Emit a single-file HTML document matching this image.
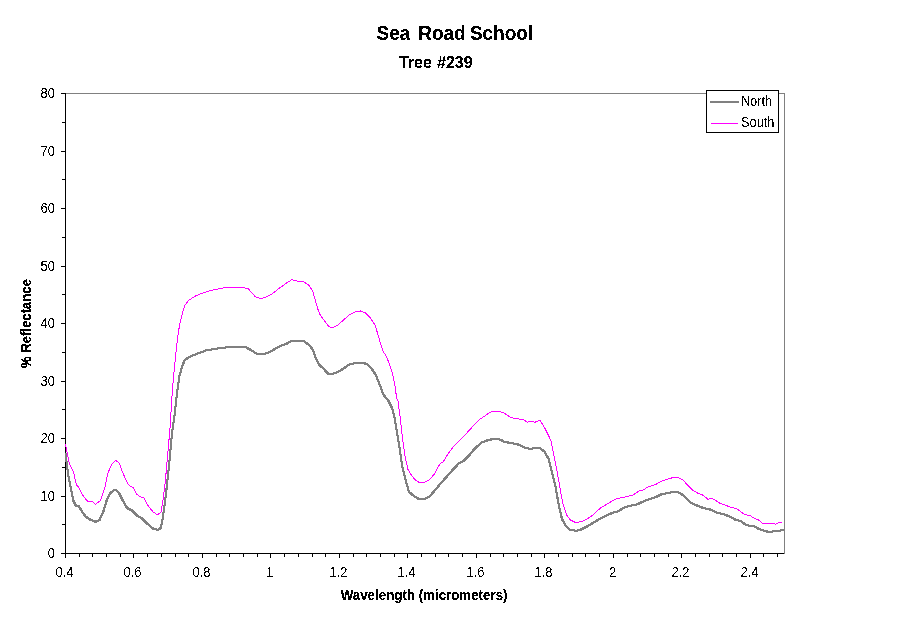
<!DOCTYPE html>
<html><head><meta charset="utf-8"><title>Sea Road School</title>
<style>
html,body{margin:0;padding:0;background:#fff;}
body{width:911px;height:623px;overflow:hidden;}
svg{display:block;font-family:"Liberation Sans",Arial,sans-serif;fill:#000;}
.b{font-weight:bold;}
</style></head><body>
<svg width="911" height="623" viewBox="0 0 911 623">
<defs>
<filter id="bwr" x="0" y="0" width="911" height="623" filterUnits="userSpaceOnUse" color-interpolation-filters="sRGB"><feComponentTransfer><feFuncA type="discrete" tableValues="0 1"/></feComponentTransfer></filter>
<filter id="bwb" x="0" y="0" width="911" height="623" filterUnits="userSpaceOnUse" color-interpolation-filters="sRGB"><feComponentTransfer><feFuncA type="discrete" tableValues="0 0 1 1 1"/></feComponentTransfer></filter>
</defs>
<rect width="911" height="623" fill="#fff"/>
<g shape-rendering="crispEdges">
<rect x="65" y="93" width="720" height="1" fill="#808080"/>
<rect x="784" y="93" width="1" height="461" fill="#808080"/>
<rect x="65" y="93" width="1" height="461" fill="#000"/>
<rect x="65" y="553" width="719" height="1" fill="#000"/>
<g fill="#000">
<rect x="61" y="553" width="4" height="1"/><rect x="61" y="496" width="4" height="1"/><rect x="61" y="438" width="4" height="1"/><rect x="61" y="381" width="4" height="1"/><rect x="61" y="323" width="4" height="1"/><rect x="61" y="266" width="4" height="1"/><rect x="61" y="208" width="4" height="1"/><rect x="61" y="151" width="4" height="1"/><rect x="61" y="93" width="4" height="1"/><rect x="62" y="524" width="3" height="1"/><rect x="62" y="467" width="3" height="1"/><rect x="62" y="409" width="3" height="1"/><rect x="62" y="352" width="3" height="1"/><rect x="62" y="294" width="3" height="1"/><rect x="62" y="237" width="3" height="1"/><rect x="62" y="179" width="3" height="1"/><rect x="62" y="122" width="3" height="1"/><rect x="65" y="554" width="1" height="4"/><rect x="79" y="554" width="1" height="3"/><rect x="92" y="554" width="1" height="3"/><rect x="106" y="554" width="1" height="3"/><rect x="120" y="554" width="1" height="3"/><rect x="133" y="554" width="1" height="4"/><rect x="147" y="554" width="1" height="3"/><rect x="161" y="554" width="1" height="3"/><rect x="175" y="554" width="1" height="3"/><rect x="188" y="554" width="1" height="3"/><rect x="202" y="554" width="1" height="4"/><rect x="216" y="554" width="1" height="3"/><rect x="229" y="554" width="1" height="3"/><rect x="243" y="554" width="1" height="3"/><rect x="257" y="554" width="1" height="3"/><rect x="270" y="554" width="1" height="4"/><rect x="284" y="554" width="1" height="3"/><rect x="298" y="554" width="1" height="3"/><rect x="312" y="554" width="1" height="3"/><rect x="325" y="554" width="1" height="3"/><rect x="339" y="554" width="1" height="4"/><rect x="353" y="554" width="1" height="3"/><rect x="366" y="554" width="1" height="3"/><rect x="380" y="554" width="1" height="3"/><rect x="394" y="554" width="1" height="3"/><rect x="407" y="554" width="1" height="4"/><rect x="421" y="554" width="1" height="3"/><rect x="435" y="554" width="1" height="3"/><rect x="448" y="554" width="1" height="3"/><rect x="462" y="554" width="1" height="3"/><rect x="476" y="554" width="1" height="4"/><rect x="490" y="554" width="1" height="3"/><rect x="503" y="554" width="1" height="3"/><rect x="517" y="554" width="1" height="3"/><rect x="531" y="554" width="1" height="3"/><rect x="544" y="554" width="1" height="4"/><rect x="558" y="554" width="1" height="3"/><rect x="572" y="554" width="1" height="3"/><rect x="585" y="554" width="1" height="3"/><rect x="599" y="554" width="1" height="3"/><rect x="613" y="554" width="1" height="4"/><rect x="627" y="554" width="1" height="3"/><rect x="640" y="554" width="1" height="3"/><rect x="654" y="554" width="1" height="3"/><rect x="668" y="554" width="1" height="3"/><rect x="681" y="554" width="1" height="4"/><rect x="695" y="554" width="1" height="3"/><rect x="709" y="554" width="1" height="3"/><rect x="722" y="554" width="1" height="3"/><rect x="736" y="554" width="1" height="3"/><rect x="750" y="554" width="1" height="4"/><rect x="763" y="554" width="1" height="3"/><rect x="777" y="554" width="1" height="3"/>
</g>
</g>
<g fill="none" stroke-linejoin="round" stroke-linecap="butt" shape-rendering="crispEdges">
<g stroke="#808080" stroke-width="1">
<polyline points="65.00,452.50 67.80,475.00 70.30,487.50 72.80,500.00 75.30,505.00 78.30,505.50 81.55,511.25 85.30,516.25 90.30,519.50 95.30,521.25 99.05,519.50 102.80,511.25 106.55,498.75 110.30,492.00 114.80,489.00 118.30,492.00 122.30,500.00 126.55,507.50 131.55,510.00 136.55,515.00 141.55,518.00 146.55,523.00 152.80,528.25 157.30,529.25 160.30,527.50 162.30,517.50 165.30,495.00 168.30,467.50 171.55,432.50 174.05,415.00 176.55,392.50 179.05,375.00 181.55,366.25 184.05,360.00 187.80,357.00 195.30,353.75 205.30,350.00 215.30,348.25 225.30,347.00 235.30,346.50 245.30,346.75 250.30,349.50 256.55,353.50 262.80,353.75 269.05,351.50 275.30,348.00 282.80,344.25 285.30,343.75 289.80,341.00 296.55,340.75 304.05,341.00 309.05,345.00 312.80,350.00 315.30,357.50 318.30,363.75 322.80,368.00 327.80,373.25 332.80,373.25 340.30,370.00 347.80,364.50 355.30,362.25 361.55,362.00 366.55,363.75 371.55,368.75 375.30,374.50 379.05,383.75 382.80,393.75 386.55,398.75 387.80,400.00 391.55,407.50 394.05,417.50 396.55,432.50 399.05,447.50 401.55,465.00 405.30,480.00 408.30,491.25 412.80,495.00 417.80,498.25 424.05,498.25 429.05,496.25 435.30,488.75 439.50,483.70 446.20,476.20 452.80,468.70 458.70,462.50 462.80,460.80 468.70,454.80 474.50,447.80 481.20,442.00 487.80,439.50 494.50,438.30 500.30,439.20 503.70,441.50 511.20,442.50 519.50,444.50 524.50,447.50 530.30,448.30 538.70,447.00 542.80,450.30 544.05,451.25 548.30,458.75 551.55,472.50 555.30,487.50 558.30,505.00 561.55,518.75 565.30,525.50 569.05,529.25 575.30,530.25 579.50,529.50 586.20,526.20 592.80,522.30 599.50,518.20 606.20,515.00 612.80,512.00 617.80,510.70 622.80,507.50 629.50,505.30 636.20,504.00 639.50,502.50 646.20,499.50 656.20,496.20 662.00,493.30 667.80,492.80 672.80,491.20 677.00,491.20 681.20,493.70 685.30,497.00 689.50,501.70 694.50,504.20 702.80,507.50 709.50,509.00 716.20,512.00 724.50,514.20 730.30,516.50 734.50,519.00 740.30,520.70 746.20,524.80 753.70,525.80 758.70,528.70 764.50,530.30 769.50,532.00 773.70,530.30 777.80,530.80 782.80,529.20"/>
<polyline points="66.00,452.50 68.80,475.00 71.30,487.50 73.80,500.00 76.30,505.00 79.30,505.50 82.55,511.25 86.30,516.25 91.30,519.50 96.30,521.25 100.05,519.50 103.80,511.25 107.55,498.75 111.30,492.00 115.80,489.00 119.30,492.00 123.30,500.00 127.55,507.50 132.55,510.00 137.55,515.00 142.55,518.00 147.55,523.00 153.80,528.25 158.30,529.25 161.30,527.50 163.30,517.50 166.30,495.00 169.30,467.50 172.55,432.50 175.05,415.00 177.55,392.50 180.05,375.00 182.55,366.25 185.05,360.00 188.80,357.00 196.30,353.75 206.30,350.00 216.30,348.25 226.30,347.00 236.30,346.50 246.30,346.75 251.30,349.50 257.55,353.50 263.80,353.75 270.05,351.50 276.30,348.00 283.80,344.25 286.30,343.75 290.80,341.00 297.55,340.75 305.05,341.00 310.05,345.00 313.80,350.00 316.30,357.50 319.30,363.75 323.80,368.00 328.80,373.25 333.80,373.25 341.30,370.00 348.80,364.50 356.30,362.25 362.55,362.00 367.55,363.75 372.55,368.75 376.30,374.50 380.05,383.75 383.80,393.75 387.55,398.75 388.80,400.00 392.55,407.50 395.05,417.50 397.55,432.50 400.05,447.50 402.55,465.00 406.30,480.00 409.30,491.25 413.80,495.00 418.80,498.25 425.05,498.25 430.05,496.25 436.30,488.75 440.50,483.70 447.20,476.20 453.80,468.70 459.70,462.50 463.80,460.80 469.70,454.80 475.50,447.80 482.20,442.00 488.80,439.50 495.50,438.30 501.30,439.20 504.70,441.50 512.20,442.50 520.50,444.50 525.50,447.50 531.30,448.30 539.70,447.00 543.80,450.30 545.05,451.25 549.30,458.75 552.55,472.50 556.30,487.50 559.30,505.00 562.55,518.75 566.30,525.50 570.05,529.25 576.30,530.25 580.50,529.50 587.20,526.20 593.80,522.30 600.50,518.20 607.20,515.00 613.80,512.00 618.80,510.70 623.80,507.50 630.50,505.30 637.20,504.00 640.50,502.50 647.20,499.50 657.20,496.20 663.00,493.30 668.80,492.80 673.80,491.20 678.00,491.20 682.20,493.70 686.30,497.00 690.50,501.70 695.50,504.20 703.80,507.50 710.50,509.00 717.20,512.00 725.50,514.20 731.30,516.50 735.50,519.00 741.30,520.70 747.20,524.80 754.70,525.80 759.70,528.70 765.50,530.30 770.50,532.00 774.70,530.30 778.80,530.80 783.80,529.20"/>
<polyline points="65.00,453.50 67.80,476.00 70.30,488.50 72.80,501.00 75.30,506.00 78.30,506.50 81.55,512.25 85.30,517.25 90.30,520.50 95.30,522.25 99.05,520.50 102.80,512.25 106.55,499.75 110.30,493.00 114.80,490.00 118.30,493.00 122.30,501.00 126.55,508.50 131.55,511.00 136.55,516.00 141.55,519.00 146.55,524.00 152.80,529.25 157.30,530.25 160.30,528.50 162.30,518.50 165.30,496.00 168.30,468.50 171.55,433.50 174.05,416.00 176.55,393.50 179.05,376.00 181.55,367.25 184.05,361.00 187.80,358.00 195.30,354.75 205.30,351.00 215.30,349.25 225.30,348.00 235.30,347.50 245.30,347.75 250.30,350.50 256.55,354.50 262.80,354.75 269.05,352.50 275.30,349.00 282.80,345.25 285.30,344.75 289.80,342.00 296.55,341.75 304.05,342.00 309.05,346.00 312.80,351.00 315.30,358.50 318.30,364.75 322.80,369.00 327.80,374.25 332.80,374.25 340.30,371.00 347.80,365.50 355.30,363.25 361.55,363.00 366.55,364.75 371.55,369.75 375.30,375.50 379.05,384.75 382.80,394.75 386.55,399.75 387.80,401.00 391.55,408.50 394.05,418.50 396.55,433.50 399.05,448.50 401.55,466.00 405.30,481.00 408.30,492.25 412.80,496.00 417.80,499.25 424.05,499.25 429.05,497.25 435.30,489.75 439.50,484.70 446.20,477.20 452.80,469.70 458.70,463.50 462.80,461.80 468.70,455.80 474.50,448.80 481.20,443.00 487.80,440.50 494.50,439.30 500.30,440.20 503.70,442.50 511.20,443.50 519.50,445.50 524.50,448.50 530.30,449.30 538.70,448.00 542.80,451.30 544.05,452.25 548.30,459.75 551.55,473.50 555.30,488.50 558.30,506.00 561.55,519.75 565.30,526.50 569.05,530.25 575.30,531.25 579.50,530.50 586.20,527.20 592.80,523.30 599.50,519.20 606.20,516.00 612.80,513.00 617.80,511.70 622.80,508.50 629.50,506.30 636.20,505.00 639.50,503.50 646.20,500.50 656.20,497.20 662.00,494.30 667.80,493.80 672.80,492.20 677.00,492.20 681.20,494.70 685.30,498.00 689.50,502.70 694.50,505.20 702.80,508.50 709.50,510.00 716.20,513.00 724.50,515.20 730.30,517.50 734.50,520.00 740.30,521.70 746.20,525.80 753.70,526.80 758.70,529.70 764.50,531.30 769.50,533.00 773.70,531.30 777.80,531.80 782.80,530.20"/>
<polyline points="66.00,453.50 68.80,476.00 71.30,488.50 73.80,501.00 76.30,506.00 79.30,506.50 82.55,512.25 86.30,517.25 91.30,520.50 96.30,522.25 100.05,520.50 103.80,512.25 107.55,499.75 111.30,493.00 115.80,490.00 119.30,493.00 123.30,501.00 127.55,508.50 132.55,511.00 137.55,516.00 142.55,519.00 147.55,524.00 153.80,529.25 158.30,530.25 161.30,528.50 163.30,518.50 166.30,496.00 169.30,468.50 172.55,433.50 175.05,416.00 177.55,393.50 180.05,376.00 182.55,367.25 185.05,361.00 188.80,358.00 196.30,354.75 206.30,351.00 216.30,349.25 226.30,348.00 236.30,347.50 246.30,347.75 251.30,350.50 257.55,354.50 263.80,354.75 270.05,352.50 276.30,349.00 283.80,345.25 286.30,344.75 290.80,342.00 297.55,341.75 305.05,342.00 310.05,346.00 313.80,351.00 316.30,358.50 319.30,364.75 323.80,369.00 328.80,374.25 333.80,374.25 341.30,371.00 348.80,365.50 356.30,363.25 362.55,363.00 367.55,364.75 372.55,369.75 376.30,375.50 380.05,384.75 383.80,394.75 387.55,399.75 388.80,401.00 392.55,408.50 395.05,418.50 397.55,433.50 400.05,448.50 402.55,466.00 406.30,481.00 409.30,492.25 413.80,496.00 418.80,499.25 425.05,499.25 430.05,497.25 436.30,489.75 440.50,484.70 447.20,477.20 453.80,469.70 459.70,463.50 463.80,461.80 469.70,455.80 475.50,448.80 482.20,443.00 488.80,440.50 495.50,439.30 501.30,440.20 504.70,442.50 512.20,443.50 520.50,445.50 525.50,448.50 531.30,449.30 539.70,448.00 543.80,451.30 545.05,452.25 549.30,459.75 552.55,473.50 556.30,488.50 559.30,506.00 562.55,519.75 566.30,526.50 570.05,530.25 576.30,531.25 580.50,530.50 587.20,527.20 593.80,523.30 600.50,519.20 607.20,516.00 613.80,513.00 618.80,511.70 623.80,508.50 630.50,506.30 637.20,505.00 640.50,503.50 647.20,500.50 657.20,497.20 663.00,494.30 668.80,493.80 673.80,492.20 678.00,492.20 682.20,494.70 686.30,498.00 690.50,502.70 695.50,505.20 703.80,508.50 710.50,510.00 717.20,513.00 725.50,515.20 731.30,517.50 735.50,520.00 741.30,521.70 747.20,525.80 754.70,526.80 759.70,529.70 765.50,531.30 770.50,533.00 774.70,531.30 778.80,531.80 783.80,530.20"/>
</g>
<polyline points="65.50,444.25 69.15,463.00 73.40,471.75 76.65,485.50 78.40,486.50 82.90,495.50 87.90,501.75 92.40,501.75 95.40,504.25 100.40,500.50 105.40,485.50 107.90,473.00 111.65,464.25 115.90,460.50 119.15,463.00 122.90,473.00 126.65,481.75 129.15,485.50 133.40,488.00 136.65,494.25 140.40,496.75 144.15,498.00 147.90,505.50 152.90,511.75 157.40,514.75 160.90,512.25 162.90,500.50 165.40,480.50 167.40,458.00 169.15,438.00 170.40,423.00 171.65,400.50 172.40,390.50 174.15,370.50 175.90,353.00 177.90,335.50 179.90,323.00 182.40,313.00 184.90,305.50 188.40,300.50 195.40,296.00 202.90,293.00 210.40,290.50 220.40,288.50 227.90,287.00 235.40,287.50 242.90,287.50 247.90,288.50 251.65,292.50 255.40,296.75 260.40,298.50 265.40,297.50 271.65,294.25 277.90,289.25 284.15,284.75 286.65,283.00 291.65,279.75 297.90,281.25 304.15,282.00 309.15,285.50 312.90,291.75 315.40,300.50 317.90,309.25 320.40,315.50 324.15,320.50 329.15,326.75 332.90,327.50 337.90,325.00 342.90,320.50 349.15,315.00 355.40,311.75 360.40,311.00 365.40,313.00 370.40,318.00 374.90,325.00 377.90,334.25 380.40,343.00 383.40,351.75 386.65,356.75 389.90,365.50 392.40,373.00 394.90,385.50 396.65,398.00 397.90,400.50 399.90,415.50 401.65,430.50 403.40,445.50 405.40,458.00 407.90,469.25 411.65,475.50 415.40,480.00 419.15,482.50 424.15,482.25 429.15,480.00 434.15,474.25 440.00,463.70 443.30,461.70 448.30,453.30 453.30,446.70 458.30,441.70 465.00,435.00 473.30,425.80 480.00,419.20 485.00,415.80 490.00,412.20 496.70,411.30 502.50,412.20 506.70,414.70 510.80,417.50 516.70,418.70 523.30,419.70 527.50,422.20 530.80,421.20 535.00,422.20 540.00,420.30 542.50,424.20 545.80,430.00 547.90,434.25 550.90,440.50 554.15,456.75 557.40,473.00 560.40,490.50 563.40,505.50 566.65,515.00 570.40,520.00 575.40,522.50 581.65,521.75 585.40,520.00 592.90,515.00 600.40,508.00 607.90,503.50 616.65,498.50 624.15,497.25 632.90,495.00 640.00,490.50 643.30,490.00 647.50,487.20 655.80,484.50 660.80,481.30 666.70,479.50 674.20,477.20 679.20,478.00 683.30,480.30 687.50,485.00 692.50,490.00 697.50,493.00 702.50,495.00 708.00,499.30 711.70,498.30 715.80,500.50 720.00,503.30 725.00,505.00 730.00,507.00 736.70,508.70 740.80,511.70 745.00,514.70 750.00,515.50 755.00,518.70 759.20,520.30 762.50,523.30 773.30,523.30 775.80,524.30 780.00,522.20 782.50,523.30" stroke="#ff00ff" stroke-width="1"/>
</g>
<g shape-rendering="crispEdges">
<rect x="706.5" y="90.5" width="72" height="42" fill="#fff" stroke="#000" stroke-width="1"/>
<rect x="710" y="101" width="29" height="2" fill="#808080"/>
<rect x="711" y="123" width="27" height="1" fill="#ff00ff"/>
</g>
<g filter="url(#bwr)">
<text transform="translate(55,558) scale(0.975,1.06)" text-anchor="end" font-size="13.33">0</text>
<text transform="translate(55,501) scale(0.975,1.06)" text-anchor="end" font-size="13.33">10</text>
<text transform="translate(55,443) scale(0.975,1.06)" text-anchor="end" font-size="13.33">20</text>
<text transform="translate(55,386) scale(0.975,1.06)" text-anchor="end" font-size="13.33">30</text>
<text transform="translate(55,328) scale(0.975,1.06)" text-anchor="end" font-size="13.33">40</text>
<text transform="translate(55,271) scale(0.975,1.06)" text-anchor="end" font-size="13.33">50</text>
<text transform="translate(55,213) scale(0.975,1.06)" text-anchor="end" font-size="13.33">60</text>
<text transform="translate(55,156) scale(0.975,1.06)" text-anchor="end" font-size="13.33">70</text>
<text transform="translate(55,98) scale(0.975,1.06)" text-anchor="end" font-size="13.33">80</text>
<text transform="translate(64.5,577) scale(0.975,1.06)" text-anchor="middle" font-size="13.33">0.4</text>
<text transform="translate(132.5,577) scale(0.975,1.06)" text-anchor="middle" font-size="13.33">0.6</text>
<text transform="translate(201.5,577) scale(0.975,1.06)" text-anchor="middle" font-size="13.33">0.8</text>
<text transform="translate(269.5,577) scale(0.975,1.06)" text-anchor="middle" font-size="13.33">1</text>
<text transform="translate(338.5,577) scale(0.975,1.06)" text-anchor="middle" font-size="13.33">1.2</text>
<text transform="translate(406.5,577) scale(0.975,1.06)" text-anchor="middle" font-size="13.33">1.4</text>
<text transform="translate(475.5,577) scale(0.975,1.06)" text-anchor="middle" font-size="13.33">1.6</text>
<text transform="translate(543.5,577) scale(0.975,1.06)" text-anchor="middle" font-size="13.33">1.8</text>
<text transform="translate(612.5,577) scale(0.975,1.06)" text-anchor="middle" font-size="13.33">2</text>
<text transform="translate(680.5,577) scale(0.975,1.06)" text-anchor="middle" font-size="13.33">2.2</text>
<text transform="translate(749.5,577) scale(0.975,1.06)" text-anchor="middle" font-size="13.33">2.4</text>
<text transform="translate(741.3,106) scale(0.94,1.06)" text-anchor="start" font-size="13.33">North</text>
<text transform="translate(741,127) scale(0.96,1.06)" text-anchor="start" font-size="13.33">South</text>
</g>
<g filter="url(#bwb)">
<text transform="translate(0,40) scale(1,1.07)" class="b" font-size="19"><tspan x="376.6">Sea</tspan> <tspan x="418.2">Road</tspan> <tspan x="469.9">School</tspan></text>
<text transform="translate(0,68) scale(1,1.08)" class="b" font-size="16"><tspan x="398.9">Tree</tspan> <tspan x="437.1">#239</tspan></text>
<text transform="translate(424.1,600) scale(1,1.08)" text-anchor="middle" font-size="13.33" class="b">Wavelength (micrometers)</text>
<text transform="translate(31,323.5) rotate(-90) scale(0.985,1.08)" text-anchor="middle" font-size="13.33" class="b">% Reflectance</text>
</g>
</svg>
</body></html>
